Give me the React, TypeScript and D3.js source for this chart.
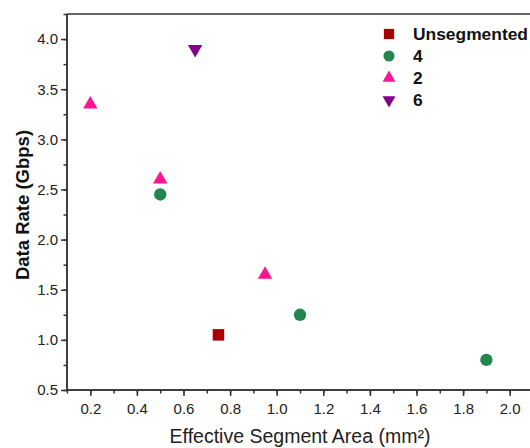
import * as d3 from 'd3';
import { useEffect, useRef } from "react";

const seriesNames = ["Unsegmented", "4", "2", "6"];
const seriesColors = ["#a80000", "#23864f", "#ff1493", "#82008a"];
const unsegX = [0.75];
const unsegY = [1.05];
const seg4X = [0.5, 1.1, 1.9];
const seg4Y = [2.45, 1.25, 0.8];
const seg2X = [0.2, 0.5, 0.95];
const seg2Y = [3.35, 2.6, 1.65];
const seg6X = [0.65];
const seg6Y = [3.9];
const xTicks = [0.2, 0.4, 0.6, 0.8, 1.0, 1.2, 1.4, 1.6, 1.8, 2.0];
const yTicks = [0.5, 1.0, 1.5, 2.0, 2.5, 3.0, 3.5, 4.0];

const App = () => {
    const ref = useRef<SVGSVGElement>(null);

    useEffect(() => {
        const width = 530;
        const left = 67, top = 14, bottom = 390;
        const font = "Arial, 'Liberation Sans', sans-serif";
        const axisColor = "#333";

        const svg = d3.select(ref.current);
        svg.selectAll("*").remove();

        const x = d3.scaleLinear().domain([0.1, 2.1]).range([left, left + 2.0 * 233]);
        const y = d3.scaleLinear().domain([0.5, 4.25]).range([bottom, top]);

        // frame (top line and axes)
        svg.append("line")
            .attr("x1", left).attr("x2", width).attr("y1", top).attr("y2", top)
            .attr("stroke", axisColor).attr("stroke-width", 1.5);

        const xMinor = d3.range(0.1, 2.11, 0.1).map(v => Math.round(v * 10) / 10);
        const yMinor = d3.range(0.5, 4.26, 0.25);

        const gx = svg.append("g").attr("transform", `translate(0,${bottom})`);
        gx.call(d3.axisBottom(x).tickValues(xMinor).tickSize(3.5).tickFormat(() => ""));
        gx.call(g => g.append("g").call(d3.axisBottom(x).tickValues(xTicks).tickSize(6)
            .tickPadding(7).tickFormat(d3.format(".1f"))));
        gx.selectAll("path").attr("d", `M${left},0H${width + 10}`);

        const gy = svg.append("g").attr("transform", `translate(${left},0)`);
        gy.call(d3.axisLeft(y).tickValues(yMinor).tickSize(3.5).tickFormat(() => ""));
        gy.call(g => g.append("g").call(d3.axisLeft(y).tickValues(yTicks).tickSize(6)
            .tickPadding(3).tickFormat(d3.format(".1f"))));
        gy.selectAll("path").attr("d", `M0,${top}V${bottom}`);

        svg.selectAll(".domain, .tick line").attr("stroke", axisColor).attr("stroke-width", 1.5);
        svg.selectAll(".tick text")
            .attr("font-family", font).attr("font-size", 15).attr("fill", "#222");

        // axis titles
        svg.append("text")
            .attr("transform", `translate(29,${(top + bottom) / 2 + 3}) rotate(-90)`)
            .attr("text-anchor", "middle")
            .attr("font-family", font).attr("font-size", 18.5).attr("font-weight", "bold")
            .attr("fill", "#111")
            .text("Data Rate (Gbps)");

        svg.append("text")
            .attr("x", 300).attr("y", 443)
            .attr("text-anchor", "middle")
            .attr("font-family", font).attr("font-size", 19.5)
            .attr("fill", "#222")
            .text("Effective Segment Area (mm²)");

        const shapes = [
            { t: d3.symbolSquare, s: 132, r: 0 },
            { t: d3.symbolCircle, s: 120, r: 0 },
            { t: d3.symbolTriangle, s: 90, r: 0 },
            { t: d3.symbolTriangle, s: 90, r: 180 },
        ];
        const xs = [unsegX, seg4X, seg2X, seg6X];
        const ys = [unsegY, seg4Y, seg2Y, seg6Y];

        xs.forEach((sx, i) => {
            const pts = sx.map((v, j) => [v, ys[i][j]]);
            svg.append("g").selectAll("path")
                .data(pts)
                .enter().append("path")
                .attr("d", d3.symbol().type(shapes[i].t).size(shapes[i].s))
                .attr("transform", d => `translate(${x(d[0])},${y(d[1])}) rotate(${shapes[i].r})`)
                .attr("fill", seriesColors[i]);
        });

        // legend
        const legend = svg.append("g");
        seriesNames.forEach((name, i) => {
            const cy = 34 + i * 22;
            legend.append("path")
                .attr("d", d3.symbol().type(shapes[i].t).size(shapes[i].s * 0.8)())
                .attr("transform", `translate(389,${cy}) rotate(${shapes[i].r})`)
                .attr("fill", seriesColors[i]);
            legend.append("text")
                .attr("x", 413).attr("y", cy + 6)
                .attr("font-family", font).attr("font-size", 17.4).attr("font-weight", "bold")
                .attr("fill", "#111")
                .text(name);
        });
    }, []);

    return (
        <svg ref={ref} width={530} height={448}
             style={{ position: "absolute", left: 0, top: 0, background: "#fff" }} />
    );
}

export default App;
